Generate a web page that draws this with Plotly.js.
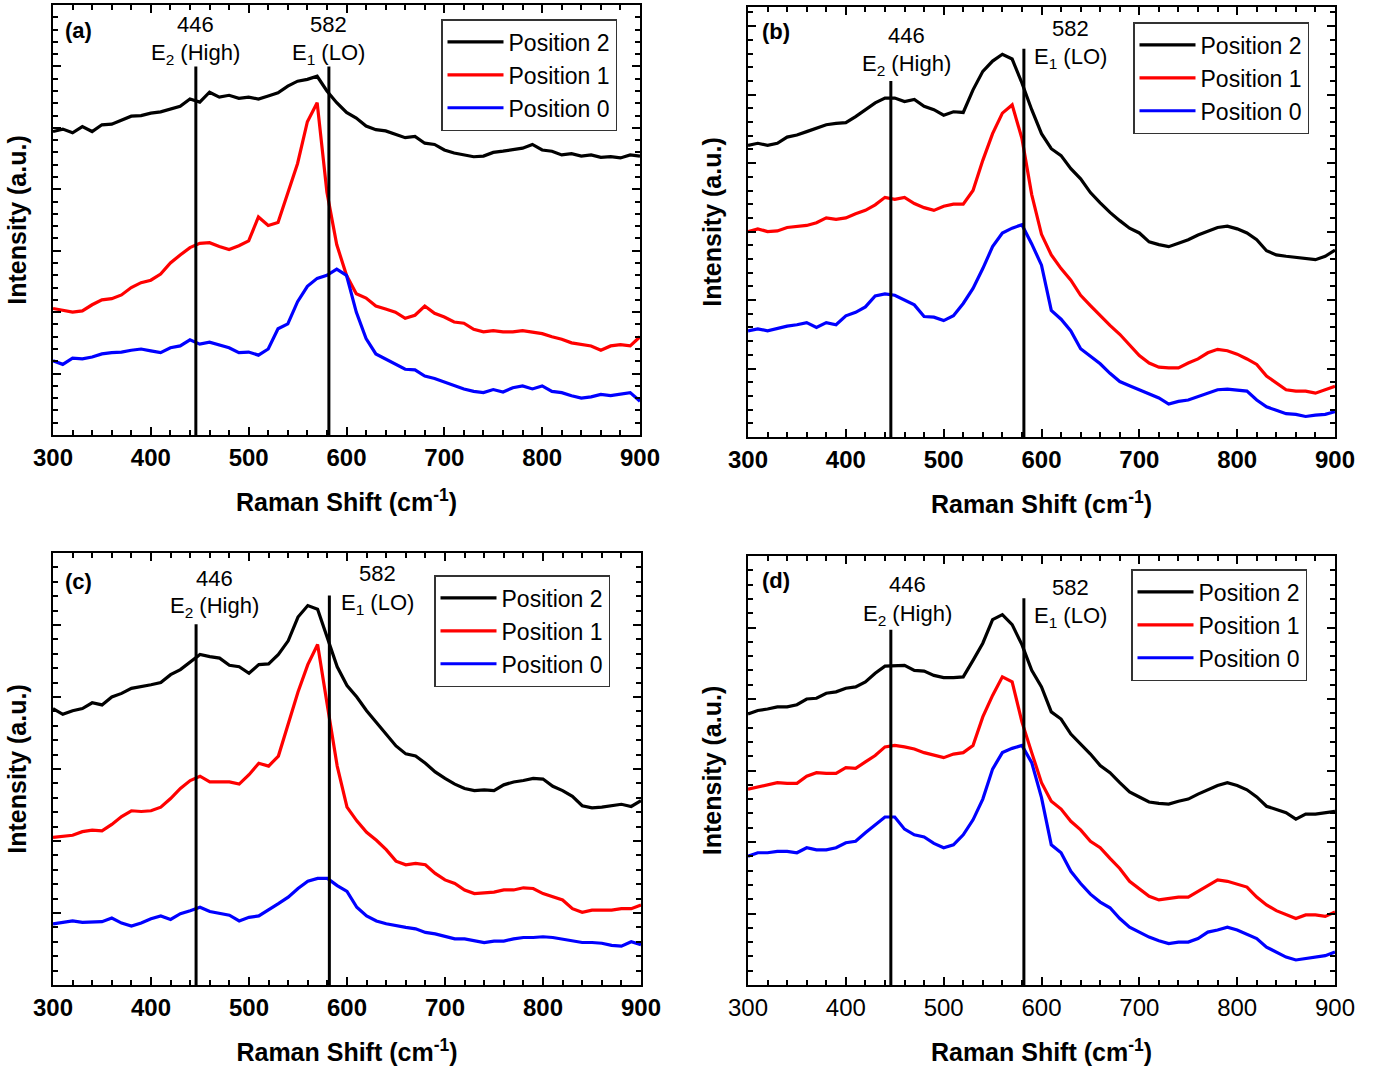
<!DOCTYPE html>
<html>
<head>
<meta charset="utf-8">
<script src="https://cdn.plot.ly/plotly-3.0.1.min.js"></script>
<style>html,body{margin:0;padding:0;background:#fff;}#chart{width:1387px;height:1070px;}</style>
</head>
<body>
<div id="chart"></div>
<script>
// ---------------- DATA ----------------
const ramanShift = [300,310,320,330,340,350,360,370,380,390,400,410,420,430,440,450,460,470,480,490,500,510,520,530,540,550,560,570,580,590,600,610,620,630,640,650,660,670,680,690,700,710,720,730,740,750,760,770,780,790,800,810,820,830,840,850,860,870,880,890,900];
const seriesNames = ['Position 2','Position 1','Position 0'];
const panelLabels = ['(a)','(b)','(c)','(d)'];
const peakPositions = [446, 582];
const peakValueLabels = ['446', '582'];
const peakModeLabels = ['E<sub>2</sub> (High)', 'E<sub>1</sub> (LO)'];

// panel (a)
const a_pos2 = [4.94,4.98,4.92,5.02,4.94,5.05,5.06,5.12,5.19,5.2, 5.24,5.26,5.3,5.35,5.47,5.42,5.58,5.5,5.53,5.48, 5.5,5.47,5.52,5.57,5.68,5.76,5.79,5.84,5.6,5.41, 5.25,5.16,5.03,4.97,4.95,4.89,4.84,4.86,4.75,4.73, 4.64,4.59,4.56,4.53,4.54,4.6,4.62,4.64,4.67,4.73, 4.64,4.62,4.56,4.58,4.54,4.56,4.52,4.53,4.51,4.56, 4.54];
const a_pos1 = [2.06,2.03,2.0,2.02,2.12,2.2,2.22,2.28,2.4,2.48, 2.52,2.62,2.8,2.93,3.05,3.12,3.13,3.07,3.02,3.08, 3.16,3.55,3.41,3.46,3.94,4.42,5.1,5.41,3.95,3.1, 2.6,2.3,2.23,2.1,2.05,2.0,1.9,1.95,2.1,1.98, 1.92,1.84,1.82,1.72,1.68,1.7,1.68,1.68,1.7,1.68, 1.65,1.6,1.56,1.5,1.48,1.45,1.38,1.45,1.47,1.45, 1.6];
const a_pos0 = [1.21,1.15,1.25,1.24,1.27,1.32,1.34,1.35,1.38,1.4, 1.37,1.34,1.42,1.45,1.55,1.48,1.51,1.46,1.42,1.34, 1.35,1.3,1.4,1.73,1.81,2.17,2.42,2.55,2.6,2.7, 2.6,2.0,1.57,1.32,1.24,1.15,1.07,1.06,0.96,0.92, 0.86,0.8,0.75,0.71,0.69,0.74,0.7,0.77,0.8,0.75, 0.8,0.71,0.69,0.64,0.6,0.62,0.66,0.64,0.66,0.69, 0.55];

// panel (b)
const b_pos2 = [4.26,4.29,4.26,4.29,4.38,4.41,4.46,4.51,4.56,4.58, 4.59,4.68,4.78,4.88,4.95,4.95,4.90,4.93,4.83,4.78, 4.70,4.75,4.74,5.07,5.34,5.49,5.59,5.52,5.17,4.78, 4.43,4.21,4.11,3.92,3.77,3.57,3.42,3.28,3.16,3.05, 2.98,2.85,2.81,2.78,2.83,2.88,2.95,3.0,3.06,3.08, 3.04,2.98,2.88,2.72,2.66,2.64,2.62,2.61,2.59,2.64, 2.73];
const b_pos1 = [3.00,3.04,3.00,3.01,3.06,3.08,3.09,3.13,3.20,3.18, 3.20,3.26,3.31,3.39,3.50,3.47,3.50,3.41,3.35,3.31, 3.37,3.40,3.40,3.60,4.04,4.43,4.73,4.85,4.36,3.54, 2.96,2.66,2.46,2.29,2.07,1.92,1.77,1.63,1.50,1.34, 1.19,1.08,1.02,1.01,1.01,1.08,1.14,1.23,1.28,1.26, 1.21,1.14,1.06,0.89,0.79,0.69,0.67,0.67,0.64,0.69, 0.74];
const b_pos0 = [1.55,1.58,1.55,1.59,1.62,1.64,1.67,1.60,1.67,1.64, 1.77,1.82,1.90,2.06,2.09,2.07,2.00,1.93,1.76,1.75, 1.70,1.77,1.95,2.17,2.46,2.78,2.98,3.05,3.10,2.82, 2.51,1.85,1.72,1.55,1.29,1.18,1.07,0.93,0.81,0.75, 0.69,0.63,0.57,0.48,0.52,0.54,0.59,0.64,0.69,0.70, 0.68,0.67,0.54,0.44,0.39,0.34,0.33,0.30,0.32,0.33, 0.37];

// panel (c)
const c_pos2 = [3.84,3.76,3.81,3.84,3.92,3.89,4.00,4.05,4.12,4.14, 4.17,4.20,4.31,4.38,4.49,4.59,4.56,4.54,4.44,4.42, 4.33,4.45,4.46,4.59,4.78,5.11,5.27,5.22,4.82,4.42, 4.16,4.00,3.81,3.65,3.48,3.32,3.21,3.18,3.08,2.96, 2.87,2.79,2.73,2.70,2.71,2.70,2.78,2.82,2.84,2.87, 2.86,2.76,2.70,2.62,2.49,2.46,2.47,2.49,2.51,2.48, 2.56];
const c_pos1 = [2.05,2.07,2.08,2.13,2.15,2.14,2.23,2.34,2.42,2.41, 2.42,2.47,2.59,2.73,2.84,2.90,2.82,2.82,2.82,2.79, 2.92,3.08,3.04,3.18,3.62,4.07,4.45,4.73,3.88,3.04, 2.47,2.28,2.12,2.01,1.88,1.72,1.67,1.69,1.67,1.55, 1.46,1.41,1.32,1.27,1.28,1.29,1.32,1.32,1.35,1.34, 1.27,1.22,1.18,1.06,1.01,1.04,1.04,1.04,1.06,1.06, 1.11];
const c_pos0 = [0.85,0.87,0.89,0.87,0.87,0.88,0.93,0.86,0.82,0.86, 0.92,0.96,0.91,0.99,1.03,1.08,1.02,0.99,0.97,0.89, 0.94,0.96,1.04,1.13,1.22,1.34,1.44,1.48,1.48,1.38, 1.30,1.08,0.96,0.89,0.85,0.82,0.80,0.78,0.73,0.71, 0.67,0.64,0.64,0.61,0.59,0.61,0.61,0.64,0.66,0.66, 0.67,0.66,0.64,0.61,0.59,0.59,0.58,0.55,0.54,0.60, 0.56];

// panel (d)
const d_pos2 = [3.79,3.84,3.86,3.89,3.89,3.92,4.00,4.01,4.08,4.10, 4.15,4.17,4.24,4.36,4.46,4.46,4.47,4.40,4.39,4.33, 4.30,4.30,4.31,4.54,4.78,5.11,5.18,5.04,4.76,4.40, 4.17,3.82,3.72,3.51,3.37,3.23,3.07,2.97,2.83,2.70, 2.63,2.56,2.54,2.53,2.57,2.60,2.67,2.73,2.79,2.83, 2.79,2.73,2.63,2.50,2.45,2.41,2.32,2.39,2.39,2.41, 2.43];
const d_pos1 = [2.74,2.77,2.80,2.83,2.82,2.82,2.92,2.97,2.96,2.96, 3.04,3.03,3.12,3.21,3.33,3.35,3.33,3.30,3.25,3.22, 3.18,3.23,3.25,3.35,3.75,4.05,4.31,4.24,3.68,3.25, 2.83,2.57,2.46,2.29,2.17,2.01,1.92,1.77,1.63,1.45, 1.35,1.24,1.19,1.21,1.23,1.23,1.31,1.40,1.47,1.45, 1.41,1.37,1.23,1.12,1.04,0.99,0.93,0.98,0.98,0.96, 1.02];
const d_pos0 = [1.80,1.85,1.85,1.87,1.87,1.85,1.92,1.89,1.89,1.92, 1.99,2.01,2.13,2.24,2.35,2.35,2.18,2.10,2.07,1.98, 1.92,1.96,2.10,2.31,2.60,3.02,3.25,3.31,3.35,3.11, 2.62,1.96,1.85,1.59,1.42,1.27,1.16,1.08,0.93,0.81, 0.74,0.67,0.62,0.58,0.60,0.60,0.65,0.74,0.77,0.81, 0.77,0.71,0.65,0.53,0.46,0.39,0.35,0.37,0.39,0.41, 0.46];

// ---------------- CONFIG ----------------
const seriesColors = ['#000000', '#ff0000', '#0000ff'];
const FONT = 'Liberation Sans, Arial, Helvetica, sans-serif';
const panelSeries = [
  [a_pos2, a_pos1, a_pos0],
  [b_pos2, b_pos1, b_pos0],
  [c_pos2, c_pos1, c_pos0],
  [d_pos2, d_pos1, d_pos0]
];
const panels = [
  {xd:[53/1387, 640/1387], yd:[1-435/1070, 1-5/1070], yr:[0,7],    tickBold:true,
   lineTop:[6.0, 6.0], valLabel:[[446,6.68],[582,6.69]], modeLabel:[[446,6.21],[582,6.21]],
   tag:[0.044,0.94], legend:[441/1387, 1-19/1070]},
  {xd:[748/1387, 1335/1387], yd:[1-437/1070, 1-7/1070], yr:[0,6.28], tickBold:true,
   lineTop:[5.2, 5.67], valLabel:[[462,5.86],[630,5.96]], modeLabel:[[462,5.44],[630,5.54]],
   tag:[0.048,0.944], legend:[1133/1387, 1-22/1070]},
  {xd:[53/1387, 641/1387], yd:[1-985/1070, 1-553/1070], yr:[0,6],   tickBold:true,
   lineTop:[5.01, 5.41], valLabel:[[465,5.65],[631,5.72]], modeLabel:[[465,5.25],[631,5.29]],
   tag:[0.044,0.935], legend:[434/1387, 1-575/1070]},
  {xd:[748/1387, 1335/1387], yd:[1-985/1070, 1-556/1070], yr:[0,6], tickBold:false,
   lineTop:[4.97, 5.41], valLabel:[[463,5.60],[630,5.56]], modeLabel:[[463,5.18],[630,5.15]],
   tag:[0.048,0.944], legend:[1131/1387, 1-569/1070]}
];

const traces = [];
const layout = {
  width:1387, height:1070,
  margin:{l:0,r:0,t:0,b:0},
  paper_bgcolor:'#ffffff', plot_bgcolor:'#ffffff',
  font:{family:FONT, color:'#000', size:16},
  showlegend:true,
  annotations:[], shapes:[]
};

panels.forEach((p, i) => {
  const n = i === 0 ? '' : String(i+1);
  const xName = 'x' + n, yName = 'y' + n;
  const legName = 'legend' + n;
  panelSeries[i].forEach((ys, k) => {
    traces.push({
      type:'scatter', mode:'lines', x:ramanShift, y:ys,
      name:seriesNames[k], xaxis:xName, yaxis:yName, legend:legName,
      line:{color:seriesColors[k], width:3.2}
    });
  });
  layout['xaxis' + n] = {
    domain:p.xd, anchor:yName, range:[300,900], tick0:300, dtick:100,
    ticks:'inside', ticklen:8, tickwidth:2, tickcolor:'#000',
    minor:{ticks:'inside', tick0:300, dtick:20, ticklen:5, tickwidth:2, tickcolor:'#000', showgrid:false},
    mirror:'ticks', showline:true, linewidth:2, linecolor:'#000',
    showgrid:false, zeroline:false, automargin:false,
    tickfont:{family:FONT, size:24, weight:p.tickBold ? 'bold' : 'normal'},
    ticklabelstandoff:0,
    title:{text:'Raman Shift (cm<sup>-1</sup>)', font:{family:FONT, size:25, weight:'bold'}, standoff:24}
  };
  layout['yaxis' + n] = {
    domain:p.yd, anchor:xName, range:p.yr, tick0:0, dtick:1,
    ticks:'inside', ticklen:8, tickwidth:2, tickcolor:'#000',
    minor:{ticks:'inside', tick0:0, dtick:0.2, ticklen:5, tickwidth:2, tickcolor:'#000', showgrid:false},
    mirror:'ticks', showline:true, linewidth:2, linecolor:'#000',
    showgrid:false, zeroline:false, showticklabels:false, automargin:false,
    title:{text:'Intensity (a.u.)', font:{family:FONT, size:25, weight:'bold'}, standoff:17}
  };
  layout[legName] = {
    x:p.legend[0], y:p.legend[1], xanchor:'left', yanchor:'top',
    bgcolor:'#ffffff', bordercolor:'#333333', borderwidth:1.5,
    font:{family:FONT, size:23, color:'#000'}, tracegroupgap:0, traceorder:'normal',
    itemwidth:56
  };
  peakPositions.forEach((pk, j) => {
    layout.shapes.push({type:'line', xref:xName, yref:yName, x0:pk, x1:pk, y0:p.yr[0], y1:p.lineTop[j],
      line:{color:'#000', width:3}});
    layout.annotations.push({xref:xName, yref:yName, x:p.valLabel[j][0], y:p.valLabel[j][1],
      xanchor:'center', yanchor:'middle',
      text:peakValueLabels[j], showarrow:false, font:{family:FONT, size:22, color:'#000'}});
    layout.annotations.push({xref:xName, yref:yName, x:p.modeLabel[j][0], y:p.modeLabel[j][1],
      xanchor:'center', yanchor:'middle',
      text:peakModeLabels[j], showarrow:false, font:{family:FONT, size:22, color:'#000'}});
  });
  layout.annotations.push({xref:xName + ' domain', yref:yName + ' domain', x:p.tag[0], y:p.tag[1],
    xanchor:'center', yanchor:'middle',
    text:'<b>' + panelLabels[i] + '</b>', showarrow:false, font:{family:FONT, size:22, color:'#000'}});
});

Plotly.newPlot('chart', traces, layout, {displayModeBar:false, staticPlot:true});
</script>
</body>
</html>
